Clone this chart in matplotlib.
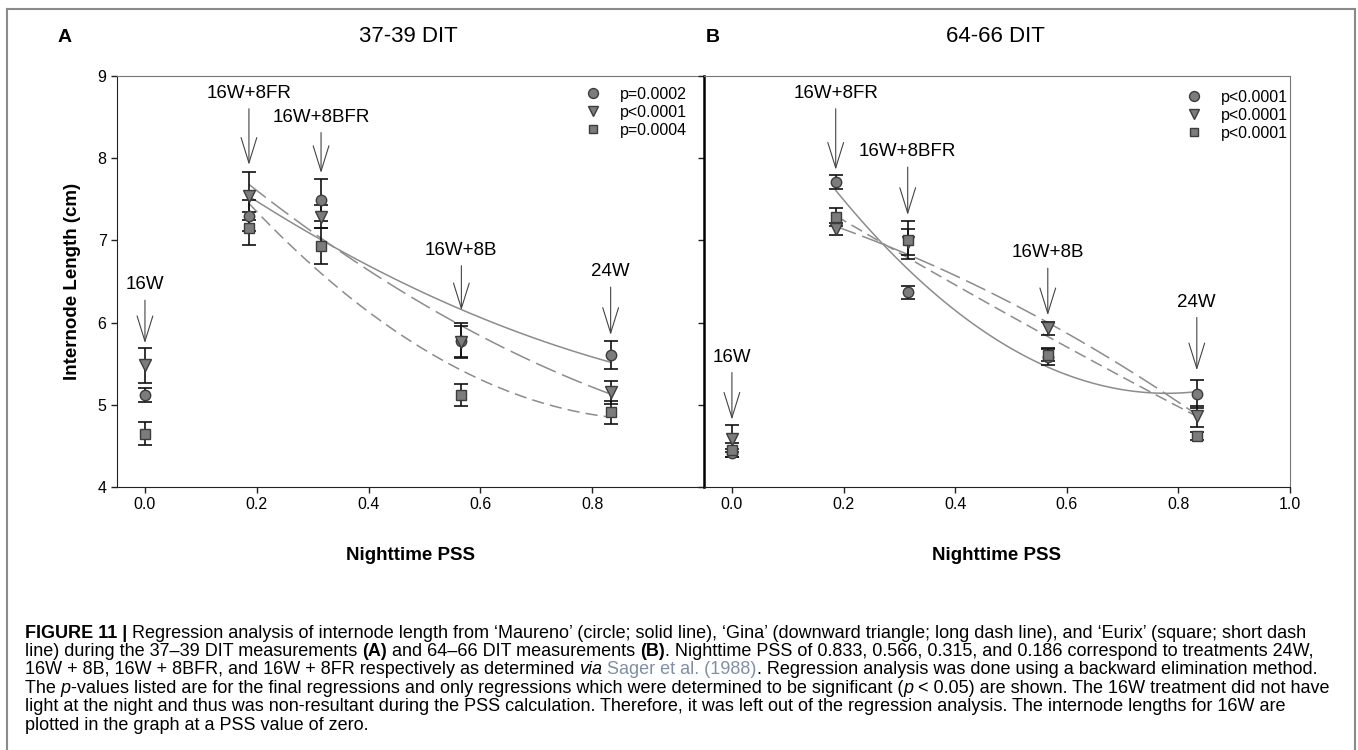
import numpy as np
import matplotlib
matplotlib.use("Agg")
import matplotlib.pyplot as plt
from matplotlib.lines import Line2D
from matplotlib.transforms import IdentityTransform

plt.rcParams['font.family'] = ['Liberation Sans', 'DejaVu Sans']

# nighttime PSS of the treatments (16W plotted at zero)
pss = [0.0, 0.186, 0.315, 0.566, 0.833]
treatments = ['16W', '16W+8FR', '16W+8BFR', '16W+8B', '24W']
fit_pss = [0.186, 0.315, 0.566, 0.833]

# 37-39 DIT (A)
circle_a = [5.12, 7.30, 7.49, 5.78, 5.61]
circle_a_err = [0.09, 0.19, 0.26, 0.21, 0.17]
tri_a = [5.48, 7.54, 7.29, 5.77, 5.15]
tri_a_err = [0.21, 0.29, 0.14, 0.19, 0.14]
sq_a = [4.65, 7.15, 6.93, 5.12, 4.91]
sq_a_err = [0.135, 0.20, 0.22, 0.13, 0.14]
fit_circle_a = [7.53, 7.02, 6.15, 5.52]
fit_tri_a = [7.68, 7.03, 5.96, 5.13]
fit_sq_a = [7.45, 6.60, 5.42, 4.85]
pvals_a = ['p=0.0002', 'p<0.0001', 'p=0.0004']
label_y_a = [6.46, 8.79, 8.50, 6.88, 6.62]
tip_y_a = [5.75, 7.92, 7.82, 6.15, 5.85]

# 64-66 DIT (B)
circle_b = [4.41, 7.71, 6.37, 5.58, 5.13]
circle_b_err = [0.05, 0.09, 0.08, 0.10, 0.17]
tri_b = [4.59, 7.14, 6.98, 5.93, 4.86]
tri_b_err = [0.16, 0.07, 0.16, 0.08, 0.13]
sq_b = [4.45, 7.29, 7.00, 5.61, 4.62]
sq_b_err = [0.08, 0.11, 0.23, 0.08, 0.05]
fit_circle_b = [7.61, 6.65, 5.46, 5.16]
fit_tri_b = [7.17, 6.83, 6.00, 4.88]
fit_sq_b = [7.30, 6.79, 5.83, 4.86]
pvals_b = ['p<0.0001', 'p<0.0001', 'p<0.0001']
label_y_b = [5.58, 8.79, 8.08, 6.85, 6.25]
tip_y_b = [4.82, 7.86, 7.31, 6.09, 5.42]

W, H = 1358, 750
fig = plt.figure(figsize=(13.58, 7.5), dpi=100)

mfc = '#7c7c7c'
mec = '#3c3c3c'
curve_col = '#8c8c8c'


def fx(px):
    return px / W


def fy(py):
    return 1 - py / H


ax_a = fig.add_axes([fx(117), fy(487), fx(704 - 117), (487 - 76) / H])
ax_b = fig.add_axes([fx(704), fy(487), fx(1290 - 704), (487 - 76) / H])


def draw_panel(ax, series, fits, pvals, label_y, tip_y):
    xs = np.linspace(fit_pss[0], fit_pss[-1], 120)
    styles = ['-', (0, (14, 4.5)), (0, (8, 4))]
    for vals, ls in zip(fits, styles):
        coef = np.polyfit(fit_pss, vals, 2)
        ax.plot(xs, np.polyval(coef, xs), color=curve_col, lw=1.1, ls=ls, zorder=2)
    markers = [('o', 7.5), ('v', 8), ('s', 6.8)]
    handles = []
    for (vals, err), (m, ms) in zip(series, markers):
        ax.errorbar(pss, vals, yerr=err, fmt='none', ecolor='#111111',
                    elinewidth=1.2, capsize=5, capthick=1.2, zorder=3)
        ax.plot(pss, vals, ls='none', marker=m, ms=ms, mfc=mfc, mec=mec,
                mew=1.0, zorder=4)
        handles.append(Line2D([], [], ls='none', marker=m, ms=ms * 0.95,
                              mfc=mfc, mec=mec, mew=1.0))
    for x, name, ty, tip in zip(pss, treatments, label_y, tip_y):
        ax.annotate(name, xy=(x, tip), xytext=(x, ty), ha='center', va='center',
                    fontsize=13.5,
                    arrowprops=dict(arrowstyle='->,head_length=1.35,head_width=0.42',
                                    color='#444444', lw=0.8, shrinkA=3, shrinkB=0),
                    zorder=5)
    ax.set_xlim(-0.05, 1.0)
    ax.set_ylim(4, 9)
    ax.set_yticks([4, 5, 6, 7, 8, 9])
    ax.tick_params(direction='out', length=4, width=1, labelsize=11.5,
                   color='#222222')
    for s in ['left', 'bottom']:
        ax.spines[s].set_color('#222222')
    for s in ['top', 'right']:
        ax.spines[s].set_color('#777777')
    ax.set_xlabel('Nighttime PSS', fontsize=13.5, fontweight='bold', labelpad=25)
    return handles


h_a = draw_panel(ax_a, [(circle_a, circle_a_err), (tri_a, tri_a_err), (sq_a, sq_a_err)],
                 [fit_circle_a, fit_tri_a, fit_sq_a], pvals_a, label_y_a, tip_y_a)
h_b = draw_panel(ax_b, [(circle_b, circle_b_err), (tri_b, tri_b_err), (sq_b, sq_b_err)],
                 [fit_circle_b, fit_tri_b, fit_sq_b], pvals_b, label_y_b, tip_y_b)

ax_a.set_xticks([0.0, 0.2, 0.4, 0.6, 0.8])
ax_a.set_xticklabels(['0.0', '0.2', '0.4', '0.6', '0.8'])
ax_a.spines['right'].set_visible(False)
ax_a.set_ylabel('Internode Length (cm)', fontsize=13.5, fontweight='bold', labelpad=12)

ax_b.set_xticks([0.0, 0.2, 0.4, 0.6, 0.8, 1.0])
ax_b.set_xticklabels(['0.0', '0.2', '0.4', '0.6', '0.8', '1.0'])
ax_b.set_yticklabels([])
ax_b.spines['left'].set_linewidth(1.8)
ax_b.spines['left'].set_color('#000000')

leg_kw = dict(loc='upper left', frameon=False, fontsize=11.5, borderpad=0,
              handlelength=1.0, handletextpad=1.2, labelspacing=0.18,
              bbox_transform=fig.transFigure)
ax_a.legend(h_a, pvals_a, bbox_to_anchor=(fx(577), fy(79)), **leg_kw)
ax_b.legend(h_b, pvals_b, bbox_to_anchor=(fx(1178), fy(82)), **leg_kw)

# panel letters and titles
fig.text(fx(65), fy(37), 'A', fontsize=14, fontweight='bold', ha='center', va='center')
fig.text(fx(713), fy(37), 'B', fontsize=14, fontweight='bold', ha='center', va='center')
fig.text(fx(408), fy(37), '37-39 DIT', fontsize=16, ha='center', va='center')
fig.text(fx(995), fy(37), '64-66 DIT', fontsize=16, ha='center', va='center')

# border around the figure
for xs_, ys_ in [([7, 7], [9, 750]), ([7, 1355], [9, 9]), ([1355, 1355], [9, 750])]:
    fig.add_artist(Line2D([fx(v) for v in xs_], [fy(v) for v in ys_],
                          color='#8a8a8a', lw=1.5))

# caption, drawn run by run
renderer = fig.canvas.get_renderer()
cap_size = 13
link_col = '#7f8fa6'


def text_width(s, **kw):
    t = fig.text(0, 0, '|' + s + '|', fontsize=cap_size, transform=IdentityTransform(), **kw)
    w1 = t.get_window_extent(renderer).width
    t.remove()
    t = fig.text(0, 0, '||', fontsize=cap_size, transform=IdentityTransform(), **kw)
    w2 = t.get_window_extent(renderer).width
    t.remove()
    return w1 - w2


def caption_line(y_px, runs):
    x = 25
    for s, kw in runs:
        fig.text(x, H - y_px, s, fontsize=cap_size, va='center', ha='left',
                 transform=IdentityTransform(), **kw)
        x += text_width(s, **kw)


B = dict(fontweight='bold')
I = dict(style='italic')
N = dict()
cap_lines = [
    [('FIGURE 11 | ', B),
     ('Regression analysis of internode length from \u2018Maureno\u2019 (circle; solid line), '
      '\u2018Gina\u2019 (downward triangle; long dash line), and \u2018Eurix\u2019 (square; short dash', N)],
    [('line) during the 37\u201339 DIT measurements ', N), ('(A)', B),
     (' and 64\u201366 DIT measurements ', N), ('(B)', B),
     ('. Nighttime PSS of 0.833, 0.566, 0.315, and 0.186 correspond to treatments 24W,', N)],
    [('16W + 8B, 16W + 8BFR, and 16W + 8FR respectively as determined ', N), ('via', I),
     (' ', N), ('Sager et al. (1988)', dict(color=link_col)),
     ('. Regression analysis was done using a backward elimination method.', N)],
    [('The ', N), ('p', I),
     ('-values listed are for the final regressions and only regressions which were determined to be significant (', N),
     ('p', I), (' < 0.05) are shown. The 16W treatment did not have', N)],
    [('light at the night and thus was non-resultant during the PSS calculation. Therefore, it was left out '
      'of the regression analysis. The internode lengths for 16W are', N)],
    [('plotted in the graph at a PSS value of zero.', N)],
]
cap_y = [633, 651.5, 670, 688.5, 706.5, 725]
for y_px, runs in zip(cap_y, cap_lines):
    caption_line(y_px, runs)

fig.savefig('out.png', dpi=100)
